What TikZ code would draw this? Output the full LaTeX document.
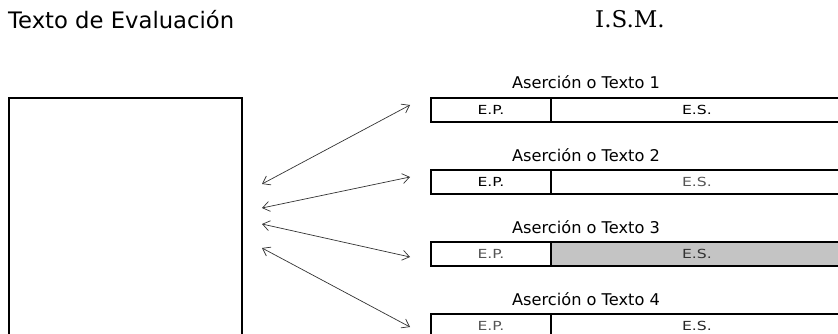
\documentclass[tikz,border=0pt]{standalone}
\usepackage{fontspec}
\setmainfont{DejaVu Sans}
\newfontfamily\ismfont{DejaVu Serif}
\newfontfamily\casfont[FakeStretch=1.25]{DejaVu Sans}
\usepackage{tikz}
\usepackage{xcolor}
\usetikzlibrary{arrows.meta, positioning}
\definecolor{grisfondo}{HTML}{C4C4C4}
\definecolor{gristexto}{HTML}{555555}
\tikzset{
  caja/.style={
    draw, line width=1.9pt, rectangle,
    minimum height=24pt, inner sep=0pt,
    anchor=north west, font=\casfont\fontsize{12.5}{12.5}\selectfont
  },
  cajaep/.style={caja, minimum width=120pt},
  cajaes/.style={caja, minimum width=292pt},
  asercion/.style={anchor=base, inner sep=0pt, font=\fontsize{16.2}{16.2}\selectfont},
  flecha/.style={draw=black!80, line width=0.7pt,
    {Straight Barb[length=7pt,width=10pt]}-{Straight Barb[length=7pt,width=10pt]}},
}

\begin{document}
\begin{tikzpicture}[x=1pt, y=-1pt]
  \useasboundingbox (0,0) rectangle (838,334);
  \clip (0,0) rectangle (838,334);

  % Titulos
  \node[anchor=base west, inner sep=0pt, font=\fontsize{22.7}{22.7}\selectfont]
    (titulo) at (8,29) {Texto de Evaluación};
  \node[anchor=base west, inner sep=0pt, font=\ismfont\fontsize{23}{23}\selectfont]
    (ism) at (595,28) {I.S.M.};

  % Texto de evaluacion (recortado abajo)
  \node[draw, line width=1.9pt, anchor=north west, inner sep=0pt,
    minimum width=233pt, minimum height=280pt] (evaluacion) at (8,97) {};

  % Aserciones
  \node[asercion] (as1) at (586,89) {Aserción o Texto 1};
  \node[cajaep] (ep1) at (430,97) {E.P.};
  \node[cajaes] (es1) at (550,97) {E.S.};

  \node[asercion] (as2) at (586,161) {Aserción o Texto 2};
  \node[cajaep] (ep2) at (430,169) {E.P.};
  \node[cajaes, text=gristexto] (es2) at (550,169) {E.S.};

  \node[asercion] (as3) at (586,233) {Aserción o Texto 3};
  \node[cajaep, text=gristexto] (ep3) at (430,241) {E.P.};
  \node[cajaes, fill=grisfondo, text=black!80] (es3) at (550,241) {E.S.};

  \node[asercion] (as4) at (586,305) {Aserción o Texto 4};
  \node[cajaep, text=gristexto] (ep4) at (430,313) {E.P.};
  \node[cajaes, text=black!85] (es4) at (550,313) {E.S.};

  % Extremos de las flechas
  \coordinate (izq1) at (262,184);
  \coordinate (izq2) at (262,208);
  \coordinate (izq3) at (262,224);
  \coordinate (izq4) at (262,248);
  \coordinate (der1) at (410,105);
  \coordinate (der2) at (410,177);
  \coordinate (der3) at (410,257);
  \coordinate (der4) at (410,327);

  % Relaciones
  \draw[flecha] (izq1) -- (der1);
  \draw[flecha] (izq2) -- (der2);
  \draw[flecha] (izq3) -- (der3);
  \draw[flecha] (izq4) -- (der4);
\end{tikzpicture}
\end{document}
